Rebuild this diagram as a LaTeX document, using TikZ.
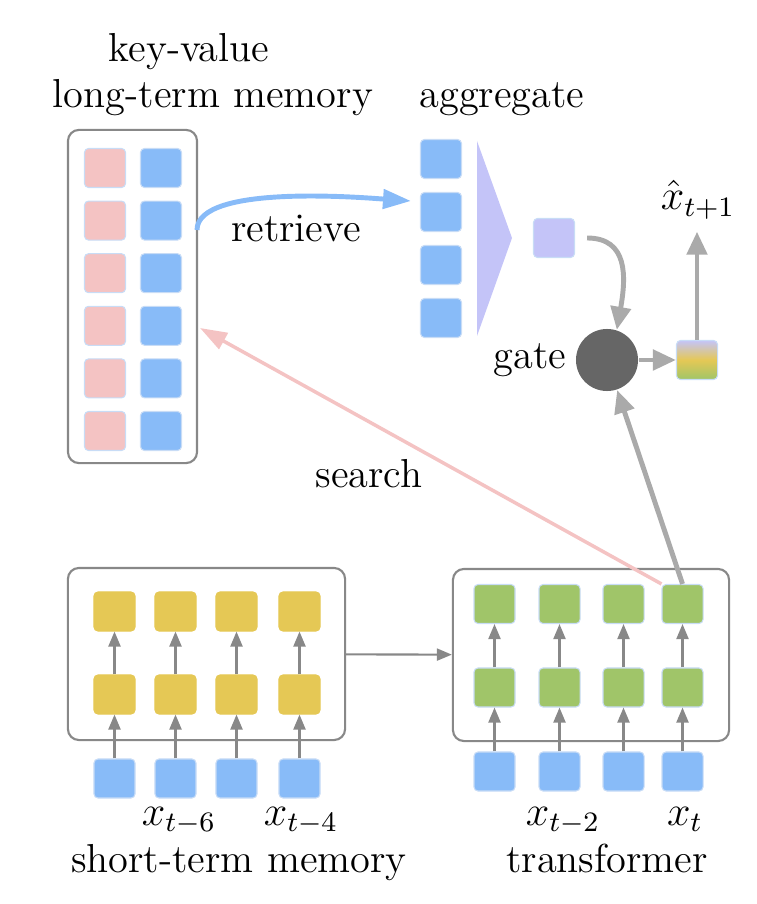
\documentclass[tikz,border=0pt]{standalone}
\usepackage{amsmath}
\usepackage{tikz}
\usetikzlibrary{positioning, arrows.meta}
\definecolor{keyblue}{HTML}{88BBF8}
\definecolor{keypink}{HTML}{F4C3C3}
\definecolor{stmyellow}{HTML}{E5C855}
\definecolor{trgreen}{HTML}{A0C569}
\definecolor{poolviolet}{HTML}{C4C4F8}
\definecolor{gategray}{HTML}{666666}
\definecolor{framegray}{HTML}{888888}
\definecolor{flowgray}{HTML}{AAAAAA}
\definecolor{cellline}{HTML}{C8DCF6}
\tikzset{
	cell/.style={rectangle, rounded corners=0.04cm, draw=cellline, line width=0.3pt, minimum width=0.41cm, minimum height=0.39cm, inner sep=0pt},
	memframe/.style={draw=framegray, line width=0.6pt, rounded corners=0.11cm, inner sep=0pt},
	thin arrow/.style={-{Triangle[length=0.15cm, width=0.12cm]}, draw=framegray, line width=0.6pt},
	thick arrow/.style={-{Triangle[length=0.23cm, width=0.2cm]}, draw=flowgray, line width=1.4pt}
}

\begin{document}
\begin{tikzpicture}[
		x=0.01cm, y=-0.01cm,
		font=\fontsize{11.5}{14}\selectfont,
		fetch arrow/.style={-{Triangle[length=0.28cm, width=0.19cm]}, draw=keyblue, line width=1.4pt},
		search arrow/.style={-{Triangle[length=0.27cm, width=0.18cm]}, draw=keypink, line width=1pt}
		]
		\useasboundingbox (0,0) rectangle (756,904);
		
		% key-value long-term memory
		\node[anchor=base] (kvtitle) at (189,62) {key-value};
		\node[anchor=base] (ltmtitle) at (213,108) {long-term memory};
		\node[memframe, minimum width=1.29cm, minimum height=3.33cm] (ltm) at (132.5,296.5) {};
		\foreach \i in {1,...,6} {
			\node[cell, fill=keypink] (key\i) at (105,{115.4+52.6*\i}) {};
			\node[cell, fill=keyblue] (val\i) at (161,{115.4+52.6*\i}) {};
		}
		
		% aggregate
		\node[anchor=base] (aggtitle) at (502,108) {aggregate};
		\foreach \i in {1,...,4}
			\node[cell, fill=keyblue] (agg\i) at (441,{106+53*\i}) {};
		\fill[poolviolet] (477,141) -- (512,238) -- (477,336) -- cycle;
		\node[cell, fill=poolviolet] (pooled) at (554,238) {};
		
		% gate and prediction
		\node[circle, fill=gategray, minimum size=0.62cm, inner sep=0pt] (gate) at (607,360) {};
		\node[inner sep=1pt, left=0.05cm of gate] (gatelbl) {gate};
		\node[cell, top color=poolviolet, bottom color=trgreen, middle color=stmyellow] (pred) at (697,360) {};
		\node[anchor=base] (xhat) at (698,210) {$\hat{x}_{t+1}$};
		
		% short-term memory
		\node[memframe, minimum width=2.77cm, minimum height=1.72cm] (stm) at (206.5,654) {};
		\foreach \i/\x in {1/114.5, 2/175.5, 3/236.5, 4/299.5} {
			\node[cell, fill=stmyellow, draw=stmyellow] (stmtop\i) at (\x,611.5) {};
			\node[cell, fill=stmyellow, draw=stmyellow] (stmmid\i) at (\x,694.5) {};
			\node[cell, fill=keyblue] (stmin\i) at (\x,778.5) {};
			\draw[thin arrow] (stmin\i) -- (stmmid\i);
			\draw[thin arrow] (stmmid\i) -- (stmtop\i);
		}
		\node[anchor=base] at (179,825) {$x_{t-6}$};
		\node[anchor=base] at (301,825) {$x_{t-4}$};
		\node[anchor=base] (stmtitle) at (239,872) {short-term memory};
		
		% transformer
		\node[memframe, minimum width=2.76cm, minimum height=1.72cm] (tfm) at (591,655) {};
		\foreach \i/\x in {1/494.5, 2/559.5, 3/623.5, 4/682.5} {
			\node[cell, fill=trgreen] (tftop\i) at (\x,604) {};
			\node[cell, fill=trgreen] (tfmid\i) at (\x,687.5) {};
			\node[cell, fill=keyblue] (tfin\i) at (\x,771.5) {};
			\draw[thin arrow] (tfin\i) -- (tfmid\i);
			\draw[thin arrow] (tfmid\i) -- (tftop\i);
		}
		\node[anchor=base] at (563,825) {$x_{t-2}$};
		\node[anchor=base] at (685,825) {$x_t$};
		\node[anchor=base] (tfmtitle) at (607,872) {transformer};
		
		\draw[thin arrow] (stm) -- (tfm);
		
		% retrieve / search
		\coordinate (retrstart) at (197,230);
		\coordinate (retrend) at (411,201);
		\draw[fetch arrow] (retrstart) to[out=90, in=176, looseness=0.55] (retrend);
		\node (retrlbl) at (296,229) {retrieve};
		
		\coordinate (searchend) at (200,328);
		\draw[search arrow] (tftop4.north west) -- (searchend);
		\node (searchlbl) at (369,474) {search};
		
		\draw[thick arrow] (tftop4.north) -- (gate);
		\draw[thick arrow, shorten <=0.12cm] (pooled.east) to[out=0, in=80, looseness=1.35] (gate.72);
		\draw[thick arrow] (gate) -- (pred);
		\draw[thick arrow] (pred.north) -- (pred.north |- xhat.south);
		
	\end{tikzpicture}
\end{document}
